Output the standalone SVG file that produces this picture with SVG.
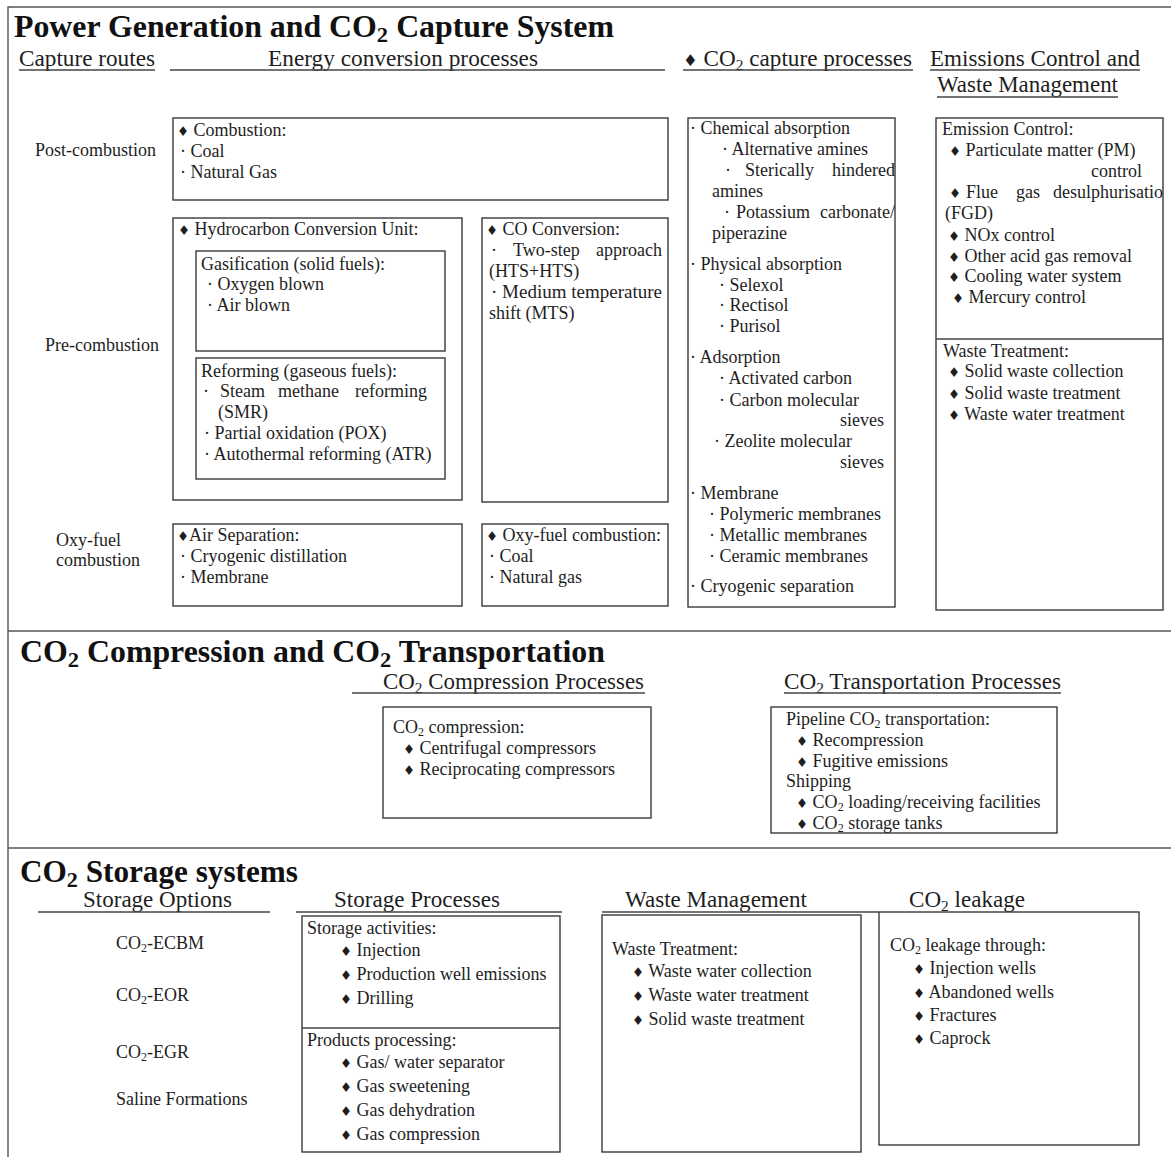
<svg xmlns="http://www.w3.org/2000/svg" width="1171" height="1157" viewBox="0 0 1171 1157">
  <style>
    text { font-family: "Liberation Serif", "Times New Roman", serif; fill: #1e1e1e; }
    .b { font-size: 18px; }
    .h { font-size: 22.5px; }
    .ttl { font-size: 31px; font-weight: bold; fill: #111; }
    .d { font-family: "DejaVu Sans", sans-serif; font-size: 13.5px; }
    .dh { font-family: "DejaVu Sans", sans-serif; font-size: 16px; }
    .box { fill: none; stroke: #3a3a3a; stroke-width: 1.4; }
    .rule { stroke: #444; stroke-width: 1.4; }
    .frame { stroke: #555; stroke-width: 1.4; fill: none; }
  </style>
  <defs>
    <clipPath id="clipCapture"><rect x="688" y="118" width="207" height="489"/></clipPath>
    <clipPath id="clipEmission"><rect x="936" y="118" width="227" height="492"/></clipPath>
  </defs>
  <rect width="1171" height="1157" fill="#fff"/>

  <!-- outer frame and section dividers -->
  <g id="frame">
    <path class="frame" d="M8 1157 V7 H1171"/>
    <line class="frame" x1="8" y1="631" x2="1171" y2="631"/>
    <line class="frame" x1="8" y1="848" x2="1171" y2="848"/>
  </g>

  <!-- ========== Section 1: power generation and capture ========== -->
  <g id="section-power">
    <text class="ttl" x="14" y="37" textLength="600" lengthAdjust="spacingAndGlyphs">Power Generation and CO<tspan font-size="22" dy="5">2</tspan><tspan dy="-5"> Capture System</tspan></text>
    <text class="h" x="19" y="66" textLength="136" lengthAdjust="spacingAndGlyphs">Capture routes</text>
    <line class="rule" x1="19" y1="70" x2="155" y2="70"/>
    <text class="h" x="268" y="66" textLength="270" lengthAdjust="spacingAndGlyphs">Energy conversion processes</text>
    <line class="rule" x1="170" y1="70" x2="665" y2="70"/>
    <text class="h" x="683" y="66" textLength="229" lengthAdjust="spacingAndGlyphs"><tspan class="dh">♦</tspan> CO<tspan font-size="15" dy="4">2</tspan><tspan dy="-4"> capture processes</tspan></text>
    <line class="rule" x1="683" y1="70" x2="913" y2="70"/>
    <text class="h" x="930" y="66" textLength="210" lengthAdjust="spacingAndGlyphs">Emissions Control and</text>
    <line class="rule" x1="930" y1="70" x2="1140" y2="70"/>
    <text class="h" x="937" y="92" textLength="181" lengthAdjust="spacingAndGlyphs">Waste Management</text>
    <line class="rule" x1="937" y1="97" x2="1118" y2="97"/>

    <text class="b" x="35" y="156">Post-combustion</text>
    <text class="b" x="45" y="351">Pre-combustion</text>
    <text class="b" x="56" y="546">Oxy-fuel</text>
    <text class="b" x="56" y="566">combustion</text>
  </g>

  <g id="node-combustion">
    <rect class="box" x="173" y="118" width="495" height="82"/>
    <text class="b" x="177" y="136"><tspan class="d">♦</tspan> Combustion:</text>
    <text class="b" x="180" y="157">· Coal</text>
    <text class="b" x="180" y="178">· Natural Gas</text>
  </g>

  <g id="node-hydrocarbon-conversion">
    <rect class="box" x="173" y="218" width="289" height="282"/>
    <text class="b" x="178" y="235"><tspan class="d">♦</tspan> Hydrocarbon Conversion Unit:</text>
  </g>

  <g id="node-gasification">
    <rect class="box" x="196" y="251" width="249" height="100"/>
    <text class="b" x="201" y="270">Gasification (solid fuels):</text>
    <text class="b" x="207" y="290">· Oxygen blown</text>
    <text class="b" x="207" y="311">· Air blown</text>
  </g>

  <g id="node-reforming">
    <rect class="box" x="196" y="358" width="249" height="121"/>
    <text class="b" x="201" y="377">Reforming (gaseous fuels):</text>
    <text class="b" x="203" y="397">·</text>
    <text class="b" x="220" y="397">Steam</text>
    <text class="b" x="278" y="397">methane</text>
    <text class="b" x="427" y="397" text-anchor="end">reforming</text>
    <text class="b" x="218" y="418">(SMR)</text>
    <text class="b" x="204" y="439">· Partial oxidation (POX)</text>
    <text class="b" x="204" y="460">· Autothermal reforming (ATR)</text>
  </g>

  <g id="node-co-conversion">
    <rect class="box" x="482" y="218" width="186" height="284"/>
    <text class="b" x="486" y="235"><tspan class="d">♦</tspan> CO Conversion:</text>
    <text class="b" x="491" y="256">·</text>
    <text class="b" x="513" y="256">Two-step</text>
    <text class="b" x="662" y="256" text-anchor="end">approach</text>
    <text class="b" x="489" y="277">(HTS+HTS)</text>
    <text class="b" x="491" y="298" textLength="171" lengthAdjust="spacingAndGlyphs">· Medium temperature</text>
    <text class="b" x="489" y="319">shift (MTS)</text>
  </g>

  <g id="node-air-separation">
    <rect class="box" x="173" y="524" width="289" height="82"/>
    <text class="b" x="177" y="541"><tspan class="d">♦</tspan>Air Separation:</text>
    <text class="b" x="180" y="562">· Cryogenic distillation</text>
    <text class="b" x="180" y="583">· Membrane</text>
  </g>

  <g id="node-oxyfuel-combustion">
    <rect class="box" x="482" y="524" width="186" height="82"/>
    <text class="b" x="486" y="541"><tspan class="d">♦</tspan> Oxy-fuel combustion:</text>
    <text class="b" x="489" y="562">· Coal</text>
    <text class="b" x="489" y="583">· Natural gas</text>
  </g>

  <g id="node-capture-processes">
    <rect class="box" x="688" y="118" width="207" height="489"/>
    <g clip-path="url(#clipCapture)">
      <text class="b" x="690" y="134">· Chemical absorption</text>
      <text class="b" x="722" y="155">· Alternative amines</text>
      <text class="b" x="725" y="176">·</text>
      <text class="b" x="745" y="176">Sterically</text>
      <text class="b" x="832" y="176">hindered</text>
      <text class="b" x="712" y="197">amines</text>
      <text class="b" x="724" y="218">·</text>
      <text class="b" x="736" y="218">Potassium</text>
      <text class="b" x="820" y="218">carbonate/</text>
      <text class="b" x="712" y="239">piperazine</text>
      <text class="b" x="690" y="270">· Physical absorption</text>
      <text class="b" x="719" y="291">· Selexol</text>
      <text class="b" x="719" y="311">· Rectisol</text>
      <text class="b" x="719" y="332">· Purisol</text>
      <text class="b" x="690" y="363">· Adsorption</text>
      <text class="b" x="719" y="384">· Activated carbon</text>
      <text class="b" x="719" y="406">· Carbon molecular</text>
      <text class="b" x="884" y="426" text-anchor="end">sieves</text>
      <text class="b" x="714" y="447">· Zeolite molecular</text>
      <text class="b" x="884" y="468" text-anchor="end">sieves</text>
      <text class="b" x="690" y="499">· Membrane</text>
      <text class="b" x="709" y="520">· Polymeric membranes</text>
      <text class="b" x="709" y="541">· Metallic membranes</text>
      <text class="b" x="709" y="562">· Ceramic membranes</text>
      <text class="b" x="690" y="592">· Cryogenic separation</text>
    </g>
  </g>

  <g id="node-emissions-waste">
    <rect class="box" x="936" y="118" width="227" height="492"/>
    <line class="rule" x1="936" y1="339" x2="1163" y2="339"/>
    <g clip-path="url(#clipEmission)">
      <text class="b" x="942" y="135">Emission Control:</text>
      <text class="b" x="949" y="156"><tspan class="d">♦</tspan> Particulate matter (PM)</text>
      <text class="b" x="1142" y="177" text-anchor="end">control</text>
      <text class="b" x="949" y="198"><tspan class="d">♦</tspan></text>
      <text class="b" x="966" y="198">Flue</text>
      <text class="b" x="1016" y="198">gas</text>
      <text class="b" x="1053" y="198">desulphurisation</text>
      <text class="b" x="945" y="219">(FGD)</text>
      <text class="b" x="948" y="241"><tspan class="d">♦</tspan> NOx control</text>
      <text class="b" x="948" y="262"><tspan class="d">♦</tspan> Other acid gas removal</text>
      <text class="b" x="948" y="282"><tspan class="d">♦</tspan> Cooling water system</text>
      <text class="b" x="952" y="303"><tspan class="d">♦</tspan> Mercury control</text>
      <text class="b" x="943" y="357">Waste Treatment:</text>
      <text class="b" x="948" y="377"><tspan class="d">♦</tspan> Solid waste collection</text>
      <text class="b" x="948" y="399"><tspan class="d">♦</tspan> Solid waste treatment</text>
      <text class="b" x="948" y="420"><tspan class="d">♦</tspan> Waste water treatment</text>
    </g>
  </g>

  <!-- ========== Section 2: compression and transportation ========== -->
  <g id="section-transport">
    <text class="ttl" x="20" y="662" textLength="585" lengthAdjust="spacingAndGlyphs">CO<tspan font-size="22" dy="5">2</tspan><tspan dy="-5"> Compression and CO</tspan><tspan font-size="22" dy="5">2</tspan><tspan dy="-5"> Transportation</tspan></text>
    <text class="h" x="383" y="689" textLength="261" lengthAdjust="spacingAndGlyphs">CO<tspan font-size="15" dy="4">2</tspan><tspan dy="-4"> Compression Processes</tspan></text>
    <line class="rule" x1="352" y1="693" x2="645" y2="693"/>
    <text class="h" x="784" y="689" textLength="277" lengthAdjust="spacingAndGlyphs">CO<tspan font-size="15" dy="4">2</tspan><tspan dy="-4"> Transportation Processes</tspan></text>
    <line class="rule" x1="784" y1="693" x2="1061" y2="693"/>
  </g>

  <g id="node-compression">
    <rect class="box" x="383" y="707" width="268" height="111"/>
    <text class="b" x="393" y="733">CO<tspan font-size="12" dy="3">2</tspan><tspan dy="-3"> compression:</tspan></text>
    <text class="b" x="403" y="754"><tspan class="d">♦</tspan> Centrifugal compressors</text>
    <text class="b" x="403" y="775"><tspan class="d">♦</tspan> Reciprocating compressors</text>
  </g>

  <g id="node-transportation">
    <rect class="box" x="771" y="707" width="286" height="126"/>
    <text class="b" x="786" y="725">Pipeline CO<tspan font-size="12" dy="3">2</tspan><tspan dy="-3"> transportation:</tspan></text>
    <text class="b" x="796" y="746"><tspan class="d">♦</tspan> Recompression</text>
    <text class="b" x="796" y="767"><tspan class="d">♦</tspan> Fugitive emissions</text>
    <text class="b" x="786" y="787">Shipping</text>
    <text class="b" x="796" y="808"><tspan class="d">♦</tspan> CO<tspan font-size="12" dy="3">2</tspan><tspan dy="-3"> loading/receiving facilities</tspan></text>
    <text class="b" x="796" y="829"><tspan class="d">♦</tspan> CO<tspan font-size="12" dy="3">2</tspan><tspan dy="-3"> storage tanks</tspan></text>
  </g>

  <!-- ========== Section 3: storage ========== -->
  <g id="section-storage">
    <text class="ttl" x="20" y="882" textLength="278" lengthAdjust="spacingAndGlyphs">CO<tspan font-size="22" dy="5">2</tspan><tspan dy="-5"> Storage systems</tspan></text>
    <text class="h" x="83" y="907" textLength="149" lengthAdjust="spacingAndGlyphs">Storage Options</text>
    <line class="rule" x1="38" y1="912" x2="270" y2="912"/>
    <text class="h" x="334" y="907" textLength="166" lengthAdjust="spacingAndGlyphs">Storage Processes</text>
    <line class="rule" x1="296" y1="912" x2="562" y2="912"/>
    <text class="h" x="625" y="907" textLength="182" lengthAdjust="spacingAndGlyphs">Waste Management</text>
    <line class="rule" x1="602" y1="912" x2="879" y2="912"/>
    <text class="h" x="909" y="907" textLength="116" lengthAdjust="spacingAndGlyphs">CO<tspan font-size="15" dy="4">2</tspan><tspan dy="-4"> leakage</tspan></text>

    <text class="b" x="116" y="949">CO<tspan font-size="12" dy="3">2</tspan><tspan dy="-3">-ECBM</tspan></text>
    <text class="b" x="116" y="1001">CO<tspan font-size="12" dy="3">2</tspan><tspan dy="-3">-EOR</tspan></text>
    <text class="b" x="116" y="1058">CO<tspan font-size="12" dy="3">2</tspan><tspan dy="-3">-EGR</tspan></text>
    <text class="b" x="116" y="1105">Saline Formations</text>
  </g>

  <g id="node-storage-processes">
    <rect class="box" x="302" y="916" width="258" height="236"/>
    <line class="rule" x1="302" y1="1028" x2="560" y2="1028"/>
    <text class="b" x="307" y="934">Storage activities:</text>
    <text class="b" x="340" y="956"><tspan class="d">♦</tspan> Injection</text>
    <text class="b" x="340" y="980"><tspan class="d">♦</tspan> Production well emissions</text>
    <text class="b" x="340" y="1004"><tspan class="d">♦</tspan> Drilling</text>
    <text class="b" x="307" y="1046">Products processing:</text>
    <text class="b" x="340" y="1068"><tspan class="d">♦</tspan> Gas/ water separator</text>
    <text class="b" x="340" y="1092"><tspan class="d">♦</tspan> Gas sweetening</text>
    <text class="b" x="340" y="1116"><tspan class="d">♦</tspan> Gas dehydration</text>
    <text class="b" x="340" y="1140"><tspan class="d">♦</tspan> Gas compression</text>
  </g>

  <g id="node-waste-management">
    <rect class="box" x="602" y="915" width="259" height="237"/>
    <text class="b" x="612" y="955">Waste Treatment:</text>
    <text class="b" x="632" y="977"><tspan class="d">♦</tspan> Waste water collection</text>
    <text class="b" x="632" y="1001"><tspan class="d">♦</tspan> Waste water treatment</text>
    <text class="b" x="632" y="1025"><tspan class="d">♦</tspan> Solid waste treatment</text>
  </g>

  <g id="node-co2-leakage">
    <rect class="box" x="879" y="912" width="260" height="233"/>
    <text class="b" x="890" y="951">CO<tspan font-size="12" dy="3">2</tspan><tspan dy="-3"> leakage through:</tspan></text>
    <text class="b" x="913" y="974"><tspan class="d">♦</tspan> Injection wells</text>
    <text class="b" x="913" y="998"><tspan class="d">♦</tspan> Abandoned wells</text>
    <text class="b" x="913" y="1021"><tspan class="d">♦</tspan> Fractures</text>
    <text class="b" x="913" y="1044"><tspan class="d">♦</tspan> Caprock</text>
  </g>

  <!-- the layout has no connectors; the group is kept for structure -->
  <g id="connectors"/>
</svg>
